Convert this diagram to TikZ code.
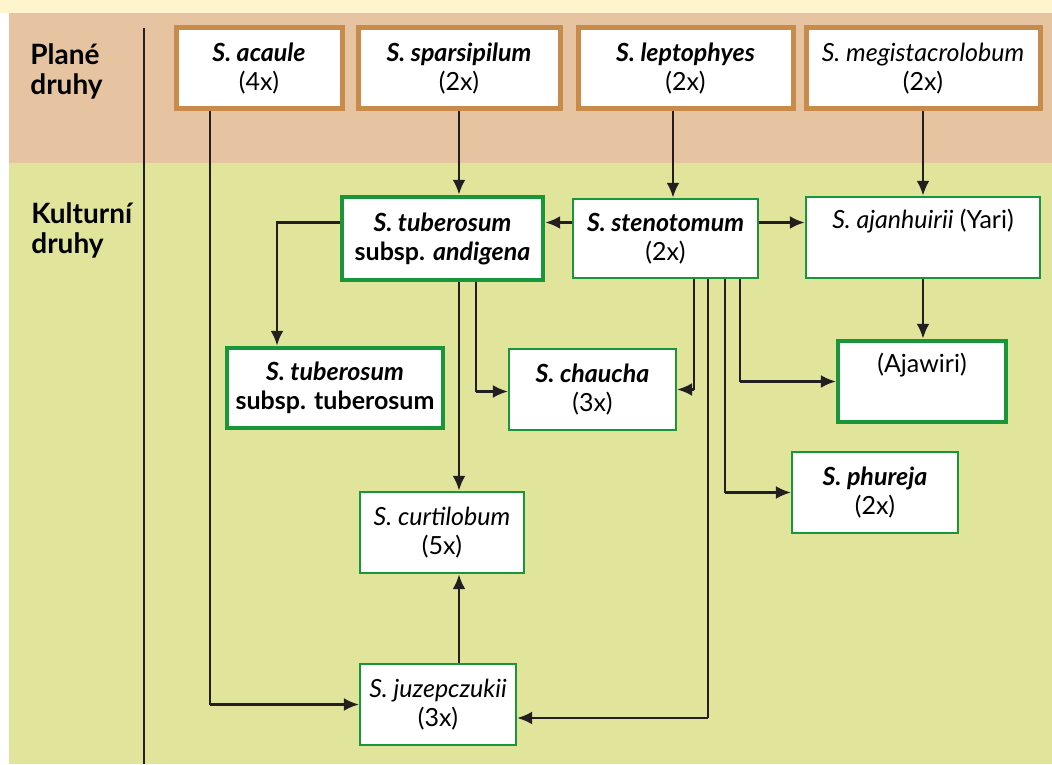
\documentclass[tikz,border=0pt]{standalone}
\usepackage{fontspec}
\setmainfont{Lato}
\usepackage{xcolor}
\definecolor{cWild}{HTML}{C98B4A}
\definecolor{cCult}{HTML}{17963A}
\definecolor{cWildBg}{HTML}{E6C4A1}
\definecolor{cCultBg}{HTML}{E0E59B}
\definecolor{cTopBg}{HTML}{FFF5CD}
\definecolor{cLine}{HTML}{231F20}
\usepackage{tikz}
\usetikzlibrary{arrows.meta,calc}
\tikzset{
  node-box/.style={draw,fill=white,align=center,inner sep=2pt,
    minimum height=40.5pt,font=\fontsize{12.5}{14.5}\selectfont},
  node-wild/.style={node-box,draw=cWild,line width=2.5pt},
  node-cult/.style={node-box,draw=cCult,line width=1.2pt},
  node-key/.style={node-box,draw=cCult,line width=2.2pt},
  node-zone/.style={align=left,anchor=north west,inner sep=0pt,
    font=\fontsize{14}{15}\selectfont\bfseries},
  arrow/.style={-{Latex[length=7.5pt,width=6.5pt]},line width=1.4pt,draw=cLine},
  arrow-mid/.style={-{Latex[length=7.5pt,width=6.5pt]},line width=1.1pt,draw=cLine},
  line-thin/.style={line width=0.7pt,draw=cLine},
}

\begin{document}
\begin{tikzpicture}[x=0.5pt,y=-0.5pt]
  \useasboundingbox (0,0) rectangle (1052,764);
  \fill[white]   (0,0)   rectangle (1052,764);
  \fill[cTopBg]  (0,0)   rectangle (1052,13);
  \fill[cWildBg] (9,13)  rectangle (1052,163);
  \fill[cCultBg] (9,163) rectangle (1052,764);
  \draw[cLine,line width=0.7pt] (144,28) -- (144,764);

  \node[node-zone] (plane) at (30,43)  {Plané\\druhy};
  \node[node-zone] (kult)  at (31,202) {Kulturní\\druhy};

  % plané druhy
  \node[node-wild,minimum width=83pt]    (acaule) at (259,68.5)   {\textbf{\textit{S. acaule}}\\(4x)};
  \node[node-wild,minimum width=101pt]   (spars)  at (459,68.5)   {\textbf{\textit{S. sparsipilum}}\\(2x)};
  \node[node-wild,minimum width=107.5pt] (lept)   at (685.5,68.5) {\textbf{\textit{S. leptophyes}}\\(2x)};
  \node[node-wild,minimum width=117pt]   (megis)  at (923,68.5)   {\textit{S. megistacrolobum}\\(2x)};

  % kulturní druhy
  \node[node-key,minimum width=100.5pt,minimum height=41.5pt] (andig) at (442.5,238.5)
    {\textbf{\textit{S. tuberosum}}\\\textbf{subsp. \textit{andigena}}};
  \node[node-cult,minimum width=92.5pt,minimum height=39.5pt] (steno) at (665.5,238.5)
    {\textbf{\textit{S. stenotomum}}\\(2x)};
  \node[node-cult,minimum width=117pt]   (ajanh)  at (923,237.5)  {\textit{S. ajanhuirii} (Yari)\\\strut};
  \node[node-key,minimum width=108pt,minimum height=40pt] (tubtub) at (335,388)
    {\textbf{\textit{S. tuberosum}}\\\textbf{subsp. tuberosum}};
  \node[node-cult,minimum width=83.5pt]  (chauc)  at (592.5,389.5) {\textbf{\textit{S. chaucha}}\\(3x)};
  \node[node-key,minimum width=84pt]     (ajawi)  at (922,381.5)  {(Ajawiri)\\\strut};
  \node[node-cult,minimum width=83pt]    (phure)  at (875,492.5)  {\textbf{\textit{S. phureja}}\\(2x)};
  \node[node-cult,minimum width=82pt]    (curti)  at (442,532.5)  {\textit{S. curtilobum}\\(5x)};
  \node[node-cult,minimum width=78pt]    (juzep)  at (438,704.5)  {\textit{S. juzepczukii}\\(3x)};

  \draw[arrow] (spars.south) -- (spars.south |- andig.north);
  \draw[arrow] ([xshift=-6.25pt]lept.south) -- ([xshift=3.75pt]steno.north);
  \draw[arrow] (megis.south) -- (ajanh.north);
  \draw[arrow] ([yshift=8pt]steno.west) -- ([yshift=8pt]steno.west -| andig.east);
  \draw[arrow] ([yshift=8pt]steno.east) -- ([yshift=8pt]steno.east -| ajanh.west);
  \draw[arrow] (ajanh.south) -- (ajanh.south |- ajawi.north);
  \draw[arrow] ([yshift=8pt]andig.west) -| ([xshift=-29pt]tubtub.north);
  \draw[arrow] ([xshift=8.25pt]andig.south) -- ([xshift=8.25pt]andig.south |- curti.north);
  \draw[arrow] ([xshift=10.5pt]juzep.north) -- ([xshift=10.5pt]juzep.north |- curti.south);

  % zalomené spojnice: tenká svislá část, silnější vodorovná s šipkou
  \coordinate (k-chauc-l) at ([xshift=16.75pt,yshift=-1pt]andig.south |- chauc.west);
  \coordinate (k-chauc-r) at ([xshift=14.25pt]steno.south |- chauc.east);
  \coordinate (k-juzep-r) at ([xshift=21.25pt,yshift=-6.75pt]steno.south |- juzep.east);
  \coordinate (k-phure)   at ([xshift=29.75pt]steno.south |- phure.west);
  \coordinate (k-ajawi)   at ([xshift=37.25pt]steno.south |- ajawi.west);
  \coordinate (k-juzep-l) at ([xshift=-24.5pt]acaule.south |- juzep.west);

  \draw[line-thin] ([xshift=16.75pt]andig.south) -- (k-chauc-l);
  \draw[line-thin] ([xshift=14.25pt]steno.south) -- (k-chauc-r);
  \draw[line-thin] ([xshift=21.25pt]steno.south) -- (k-juzep-r);
  \draw[line-thin] ([xshift=29.75pt]steno.south) -- (k-phure);
  \draw[line-thin] ([xshift=37.25pt]steno.south) -- (k-ajawi);
  \draw[line-thin] ([xshift=-24.5pt]acaule.south) -- (k-juzep-l);

  \draw[arrow-mid] (k-chauc-l) -- (k-chauc-l -| chauc.west);
  \draw[arrow-mid] (k-chauc-r) -- (chauc.east);
  \draw[arrow-mid] (k-juzep-r) -- (k-juzep-r -| juzep.east);
  \draw[arrow-mid] (k-phure)   -- (phure.west);
  \draw[arrow-mid] (k-ajawi)   -- (ajawi.west);
  \draw[arrow-mid] (k-juzep-l) -- (juzep.west);
\end{tikzpicture}
\end{document}
